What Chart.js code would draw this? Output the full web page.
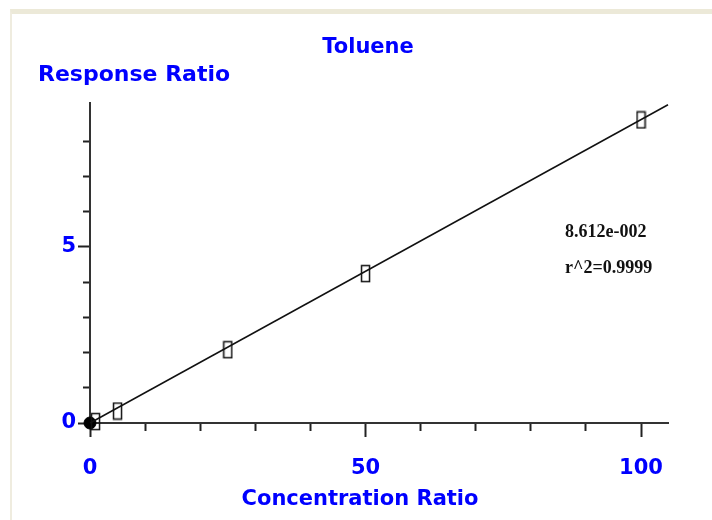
<!DOCTYPE html>
<html>
<head>
<meta charset="utf-8">
<script src="https://cdn.jsdelivr.net/npm/chart.js@4.4.0/dist/chart.umd.min.js"></script>
<style>
  html, body { margin: 0; padding: 0; background: #fff; }
  #frame { position: absolute; left: 10px; top: 9px; width: 702px; height: 511px; box-sizing: border-box;
           border-top: 5px solid #ece9d8; border-left: 2px solid #efecdf; }
  #myChart { position: absolute; left: 0; top: 0; }
</style>
</head>
<body>
<div id="frame"></div>
<canvas id="myChart" width="712" height="520"></canvas>
<script>
// calibration points (open rectangles)
var calX = [1, 5, 25, 50, 100];
var calY = [0.04, 0.34, 2.08, 4.24, 8.6];
// origin marker
var originX = [0];
var originY = [0];
// fitted line ends
var fitX = [0, 104.9];
var fitY = [0, 9.03];
// labelled ticks
var xTickLabels = [0, 50, 100];
var yTickLabels = [0, 5];
var titleText = 'Toluene';
var yTitle = 'Response Ratio';
var xTitle = 'Concentration Ratio';
var fitText = ['8.612e-002', 'r^2=0.9999'];

function toPoints(xs, ys) {
    return xs.map(function(x, i) {
        return { x: x, y: ys[i] };
    });
}

// tall narrow open box used for the points
var box = document.createElement('canvas');
box.width = 11;
box.height = 19;
var bctx = box.getContext('2d');
bctx.strokeStyle = '#111';
bctx.lineWidth = 1.5;
bctx.strokeRect(1.5, 1.5, 8, 16);

var blue = '#0000ff';
var tickFont = { family: '"DejaVu Sans", sans-serif', weight: 'bold', size: 21 };

var textPlugin = {
    id: 'textPlugin',
    afterDraw: function(chart) {
        var ctx = chart.ctx;
        ctx.save();
        ctx.fillStyle = blue;
        ctx.font = 'bold 21px "DejaVu Sans"';
        ctx.textAlign = 'center';
        ctx.fillText(titleText, 368, 53);
        ctx.fillText(xTitle, 360, 505);
        ctx.textAlign = 'left';
        ctx.font = 'bold 22px "DejaVu Sans"';
        ctx.fillText(yTitle, 38, 81);
        ctx.fillStyle = '#111';
        ctx.font = 'bold 18px "Liberation Serif"';
        ctx.fillText(fitText[0], 565, 237);
        ctx.fillText(fitText[1], 565, 273);
        ctx.restore();
    }
};

var myChart = new Chart(document.getElementById('myChart'), {
    type: 'scatter',
    data: {
        datasets: [
            {
                type: 'line',
                data: toPoints(fitX, fitY),
                borderColor: '#111',
                borderWidth: 1.5,
                pointRadius: 0,
                fill: false,
                clip: false
            },
            {
                data: toPoints(calX, calY),
                pointStyle: box,
                clip: false
            },
            {
                data: toPoints(originX, originY),
                pointStyle: 'circle',
                pointRadius: 6,
                backgroundColor: '#000',
                borderColor: '#000',
                clip: false
            }
        ]
    },
    options: {
        responsive: false,
        animation: false,
        events: [],
        layout: { padding: { top: 103, right: 44, left: 0, bottom: 0 } },
        plugins: {
            legend: { display: false },
            tooltip: { enabled: false }
        },
        scales: {
            x: {
                type: 'linear',
                position: 'bottom',
                min: 0,
                max: 104.9,
                afterFit: function(s) { s.height = 97; },
                ticks: {
                    stepSize: 10,
                    includeBounds: false,
                    autoSkip: false,
                    maxRotation: 0,
                    padding: 19,
                    color: blue,
                    font: tickFont,
                    callback: function(v) { return xTickLabels.indexOf(v) >= 0 ? String(v) : ''; }
                },
                grid: {
                    drawOnChartArea: false,
                    tickLength: 14,
                    tickWidth: 2,
                    tickColor: '#222',
                    tickBorderDash: function(c) {
                        return xTickLabels.indexOf(c.tick.value) >= 0 ? [] : [7, 100];
                    }
                },
                border: { display: true, color: '#333', width: 2 }
            },
            y: {
                type: 'linear',
                min: 0,
                max: 9.08,
                afterFit: function(s) { s.width = 90; },
                afterBuildTicks: function(s) {
                    s.ticks = s.ticks.filter(function(t) { return t.value <= 8; });
                },
                ticks: {
                    stepSize: 1,
                    includeBounds: false,
                    autoSkip: false,
                    padding: 2,
                    color: blue,
                    font: tickFont,
                    callback: function(v) { return yTickLabels.indexOf(v) >= 0 ? String(v) : ''; }
                },
                grid: {
                    drawOnChartArea: false,
                    tickLength: 12,
                    tickWidth: 2,
                    tickColor: '#222',
                    tickBorderDash: function(c) {
                        return yTickLabels.indexOf(c.tick.value) >= 0 ? [] : [0, 5, 7, 100];
                    }
                },
                border: { display: true, color: '#333', width: 2 }
            }
        }
    },
    plugins: [textPlugin]
});
</script>
</body>
</html>
